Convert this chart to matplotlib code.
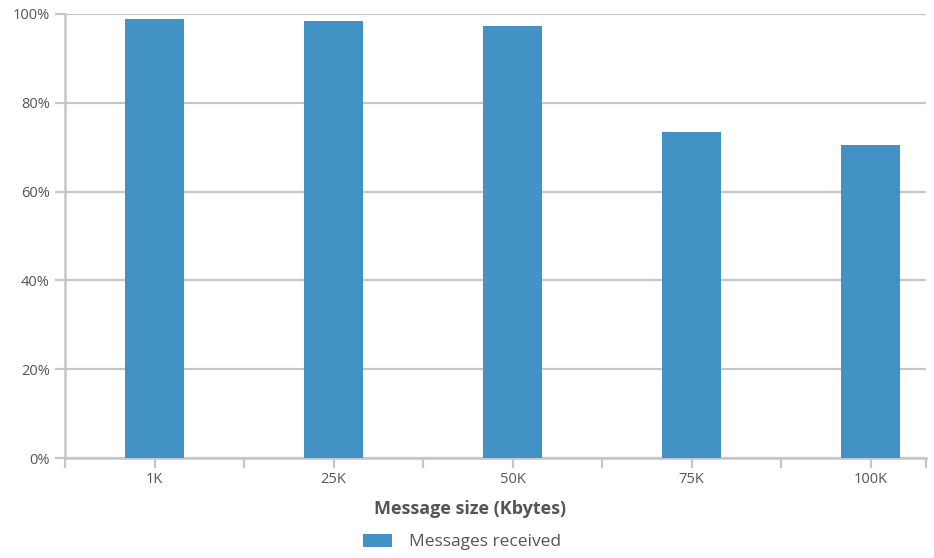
import numpy as np
import matplotlib.pyplot as plt
from matplotlib.patches import Patch

plt.rcParams['font.family'] = ['Open Sans', 'DejaVu Sans']

# 数据
sizes = ['1K', '25K', '50K', '75K', '100K']
received = [98.9, 98.4, 97.3, 73.4, 70.5]

bar_color = '#4392c5'
grid_color = '#c3c6ca'
text_color = '#555555'

fig = plt.figure(figsize=(9.34, 5.58), dpi=100)
ax = fig.add_axes([65 / 934, 1 - 458 / 558, (926 - 65) / 934, (458 - 14) / 558])

x = np.arange(len(sizes))
ax.bar(x, received, width=0.33, color=bar_color, zorder=3)

ax.set_ylim(0, 100)
ax.set_xlim(-0.5, 4.31)
ax.set_yticks(np.arange(0, 101, 20))
ax.set_yticklabels([f'{v}%' for v in range(0, 101, 20)])
ax.set_xticks(x)
ax.set_xticklabels(sizes)
ax.set_xticks(np.append(np.arange(-0.5, 4, 1), 4.31), minor=True)

ax.grid(axis='y', color=grid_color, linewidth=1.6, zorder=0)
for s in ['top', 'right']:
    ax.spines[s].set_visible(False)
for s in ['left', 'bottom']:
    ax.spines[s].set_color(grid_color)
    ax.spines[s].set_linewidth(1.8)

ax.tick_params(axis='y', length=7, width=1.6, color=grid_color, labelsize=10.5,
               labelcolor=text_color, pad=4)
ax.tick_params(axis='x', which='major', length=7, width=1.6, color=grid_color,
               labelsize=10.5, labelcolor=text_color, pad=3)
ax.tick_params(axis='x', which='minor', length=7, width=1.6, color=grid_color)

ax.set_xlabel('Message size (Kbytes)', fontsize=13, fontweight='bold',
              color=text_color)
ax.xaxis.set_label_coords((470 - 65) / 861, -(509 - 458) / 444, transform=ax.transAxes)
ax.xaxis.label.set_va('center')

handles = [Patch(facecolor=bar_color, label='Messages received')]
fig.legend(handles=handles, loc='center', bbox_to_anchor=(462 / 934, 1 - 542 / 558),
           frameon=False, fontsize=12.5, handlelength=1.7, handleheight=0.8,
           handletextpad=1.0, labelcolor=text_color)

fig.savefig('out.png', dpi=100)
